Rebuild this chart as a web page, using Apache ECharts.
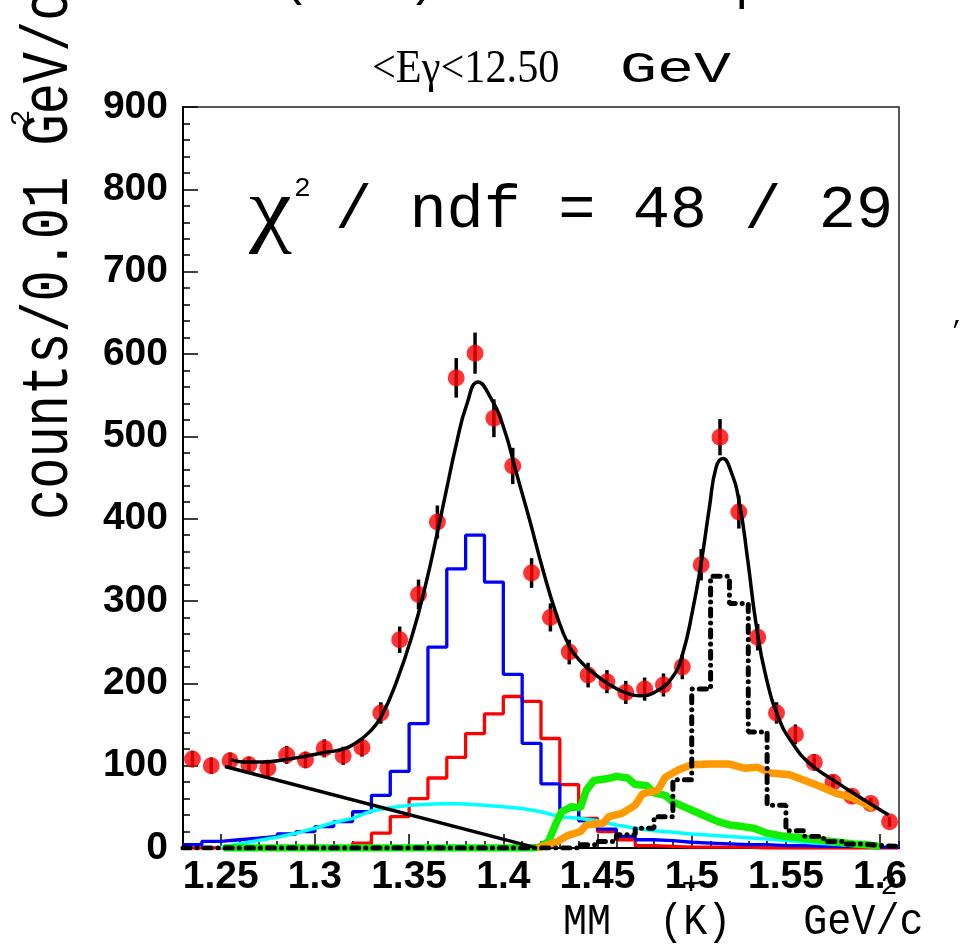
<!DOCTYPE html>
<html>
<head>
<meta charset="utf-8">
<script src="https://cdn.jsdelivr.net/npm/echarts@6/dist/echarts.min.js"></script>
<style>
  html, body { margin: 0; padding: 0; background: #fff; }
  #chart { width: 964px; height: 948px; }
</style>
</head>
<body>
<div id="chart"></div>
<script>
// data points: bin centres (GeV/c^2), counts and their errors
const pointX = [1.235, 1.245, 1.255, 1.265, 1.275, 1.285, 1.295, 1.305, 1.315, 1.325,
  1.335, 1.345, 1.355, 1.365, 1.375, 1.385, 1.395, 1.405, 1.415, 1.425,
  1.435, 1.445, 1.455, 1.465, 1.475, 1.485, 1.495, 1.505, 1.515, 1.525,
  1.535, 1.545, 1.555, 1.565, 1.575, 1.585, 1.595, 1.605]
const pointY = [108, 100, 106, 101, 97, 113, 107, 121, 112, 122,
  164, 253, 308, 396, 571, 601, 522, 464, 334, 280,
  238, 210, 202, 189, 193, 198, 220, 344, 499, 408,
  256, 164, 138, 104, 80, 63, 54, 32]
const pointErr = [10, 10, 10, 10, 10, 11, 10, 11, 11, 11,
  13, 16, 18, 20, 24, 25, 23, 22, 18, 17,
  15, 15, 14, 14, 14, 14, 15, 19, 22, 20,
  16, 13, 12, 10, 9, 8, 7, 6]

// histograms: lower bin edges and contents
const binLow = [1.23, 1.24, 1.25, 1.26, 1.27, 1.28, 1.29, 1.30, 1.31, 1.32,
  1.33, 1.34, 1.35, 1.36, 1.37, 1.38, 1.39, 1.40, 1.41, 1.42,
  1.43, 1.44, 1.45, 1.46, 1.47, 1.48, 1.49, 1.50, 1.51, 1.52,
  1.53, 1.54, 1.55, 1.56, 1.57, 1.58, 1.59, 1.60]
const blueHist = [4, 8, 10, 12, 14, 17, 20, 26, 32, 44,
  64, 93, 151, 244, 339, 380, 323, 211, 127, 78,
  47, 33, 23, 14, 10, 9, 7, 6, 5, 4,
  4, 3, 3, 2, 2, 2, 1, 1]
const redHist = [0, 0, 0, 0, 0, 0, 0, 0, 0, 6,
  18, 38, 60, 85, 110, 139, 163, 184, 178, 133,
  77, 36, 20, 10, 3, 2, 1, 1, 1, 1,
  0, 0, 0, 0, 0, 0, 0, 0]
const dashHist = [0, 0, 0, 0, 0, 0, 0, 0, 0, 0,
  0, 0, 0, 0, 0, 0, 0, 0, 0, 0,
  0, 4, 8, 16, 24, 38, 83, 193, 330, 297,
  141, 52, 21, 14, 8, 5, 3, 2]

// curves
const cyanX = [1.25, 1.26, 1.27, 1.28, 1.29, 1.30, 1.31, 1.32, 1.33, 1.34,
  1.35, 1.36, 1.37, 1.38, 1.39, 1.40, 1.41, 1.42, 1.43, 1.44,
  1.45, 1.46, 1.47, 1.48, 1.49, 1.50, 1.51, 1.52, 1.53, 1.54,
  1.55, 1.56, 1.57, 1.58, 1.59, 1.60]
const cyanY = [1, 5, 9, 13, 18, 24, 31, 36, 45, 49,
  52, 53, 54, 53.5, 52, 50, 48, 44, 38, 36,
  33, 28, 24, 21, 19, 17, 15.5, 14, 12.5, 11,
  9, 7, 5.5, 4, 3, 2]
const greenX = [1.2515, 1.415, 1.419, 1.424, 1.428, 1.431, 1.436, 1.441, 1.444, 1.448,
  1.455, 1.46, 1.466, 1.47, 1.476, 1.48, 1.486, 1.49, 1.496, 1.502,
  1.508, 1.514, 1.52, 1.527, 1.533, 1.54, 1.547, 1.555, 1.563, 1.57,
  1.578, 1.586, 1.593, 1.6]
const greenY = [0, 0, 1, 8, 30, 44, 50, 49, 70, 82,
  84, 87, 85, 77, 76, 67, 64, 56, 50, 44,
  38, 32, 28, 26, 24, 18, 15, 13, 11, 9,
  7, 5, 4, 2]
const orangeX = [1.418, 1.424, 1.429, 1.434, 1.441, 1.444, 1.453, 1.456, 1.463, 1.47,
  1.474, 1.482, 1.486, 1.493, 1.50, 1.51, 1.52, 1.528, 1.535, 1.542,
  1.552, 1.559, 1.568, 1.577, 1.584, 1.591, 1.5965]
const orangeY = [0, 4, 8, 15, 20, 28, 30, 38, 42, 52,
  66, 70, 86, 95, 101, 102, 102, 97, 98, 91,
  89, 83, 75, 66, 62, 55, 48]
const bgX = [1.2523, 1.416]
const bgY = [99, 1]
const fitX = [1.2555, 1.262, 1.272, 1.283, 1.294, 1.305, 1.315, 1.322, 1.329, 1.335,
  1.343, 1.352, 1.359, 1.3645, 1.370, 1.375, 1.3805, 1.3866, 1.393, 1.400,
  1.407, 1.414, 1.421, 1.428, 1.435, 1.4405, 1.446, 1.456, 1.467, 1.4723,
  1.481, 1.4899, 1.4952, 1.5005, 1.505, 1.5094, 1.5129, 1.5165, 1.5209, 1.5253,
  1.5297, 1.5341, 1.5394, 1.5465, 1.5536, 1.5624, 1.5748, 1.589, 1.6045]
const fitY = [107, 104.5, 104.5, 107, 111, 116, 120, 128, 141, 159,
  200, 261, 322, 378, 437, 490, 538, 566, 548, 512,
  455, 398, 338, 285, 245, 228, 216, 199, 187, 185,
  190, 208, 236, 289, 346, 414, 462, 473, 457, 419,
  350, 273, 208, 156, 127, 103, 83, 62, 40]

const xTickLabels = [1.25, 1.3, 1.35, 1.4, 1.45, 1.5, 1.55, 1.6]

const minorTicks = []
for (let i = 0; i <= 38; i++) minorTicks.push(+(1.23 + i * 0.01).toFixed(2))

function pairs (xs, ys) {
  return xs.map((x, i) => [x, ys[i]])
}
function histData (vals) {
  const d = binLow.map((x, i) => [x, vals[i]])
  d.push([1.61, vals[vals.length - 1]])
  return d
}

const mono = '"Liberation Mono", "DejaVu Sans Mono", monospace'
const serif = '"Liberation Serif", "DejaVu Serif", serif'
const sans = '"Liberation Sans", Arial, sans-serif'

const chart = echarts.init(document.getElementById('chart'))
chart.setOption({
  animation: false,
  backgroundColor: '#fff',
  grid: {
    left: 183, right: 65, top: 107, bottom: 100,
    show: true, borderColor: '#222', borderWidth: 1.5
  },
  xAxis: [{
    type: 'value', min: 1.23, max: 1.61, position: 'bottom',
    axisLine: { onZero: false, lineStyle: { color: '#000', width: 2 } },
    axisTick: { customValues: xTickLabels, inside: true, length: 14, lineStyle: { color: '#000', width: 1.5 } },
    axisLabel: {
      customValues: xTickLabels, margin: 10,
      formatter: v => String(+(+v).toFixed(2)),
      color: '#000', fontSize: 39, fontWeight: 'bold', fontFamily: sans
    },
    splitLine: { show: false }
  }, {
    type: 'value', min: 1.23, max: 1.61, position: 'bottom',
    axisLine: { show: false, onZero: false },
    axisTick: { customValues: minorTicks, inside: true, length: 7, lineStyle: { color: '#000', width: 1.5 } },
    axisLabel: { show: false },
    splitLine: { show: false }
  }],
  yAxis: {
    type: 'value', min: 0, max: 900, interval: 100,
    axisLine: { show: true, lineStyle: { color: '#000', width: 2 } },
    axisTick: { inside: true, length: 15, lineStyle: { color: '#000', width: 1.5 } },
    minorTick: { show: true, splitNumber: 5, length: 7, lineStyle: { color: '#000', width: 1.5 } },
    axisLabel: { margin: 15, color: '#000', fontSize: 39, fontWeight: 'bold', fontFamily: sans },
    splitLine: { show: false }
  },
  series: [
    {
      name: 'red hist', type: 'line', step: 'end', symbol: 'none',
      data: histData(redHist), lineStyle: { color: '#ff0000', width: 3.3 }
    },
    {
      name: 'blue hist', type: 'line', step: 'end', symbol: 'none',
      data: histData(blueHist), lineStyle: { color: '#0000ff', width: 3.3 }
    },
    {
      name: 'cyan', type: 'line', symbol: 'none',
      data: pairs(cyanX, cyanY), lineStyle: { color: '#00ffff', width: 3.5 }
    },
    {
      name: 'green', type: 'line', symbol: 'none',
      data: pairs(greenX, greenY), lineStyle: { color: '#11ee00', width: 7.5 }
    },
    {
      name: 'orange', type: 'line', symbol: 'none',
      data: pairs(orangeX, orangeY), lineStyle: { color: '#ff9900', width: 7.5 }
    },
    {
      name: 'dashed hist', type: 'line', step: 'end', symbol: 'none',
      data: histData(dashHist),
      lineStyle: { color: '#000', width: 5, type: [7, 7, 0.1, 7], cap: 'round' }
    },
    {
      name: 'background', type: 'line', symbol: 'none',
      data: pairs(bgX, bgY), lineStyle: { color: '#000', width: 3.5 }
    },
    {
      name: 'errors', type: 'custom',
      data: pointX.map((x, i) => [x, pointY[i], pointErr[i]]),
      renderItem: function (params, api) {
        const x = api.value(0)
        const y = api.value(1)
        const e = api.value(2)
        const a = api.coord([x, y + e])
        const b = api.coord([x, y - e])
        return {
          type: 'line',
          shape: { x1: a[0], y1: a[1], x2: b[0], y2: b[1] },
          style: { stroke: '#000', lineWidth: 3.5 }
        }
      }
    },
    {
      name: 'data', type: 'scatter', symbol: 'circle', symbolSize: 17,
      data: pairs(pointX, pointY), itemStyle: { color: '#ff0000' }
    },
    {
      name: 'fit', type: 'line', symbol: 'none', smooth: 0.5,
      data: pairs(fitX, fitY), lineStyle: { color: '#000', width: 3.5 }
    }
  ],
  graphic: [
    // title
    { type: 'text', x: 372, y: 70, scaleX: 0.92,
      style: { text: '<Eγ<12.50', fontSize: 46, fontFamily: serif, fill: '#000', align: 'left', verticalAlign: 'middle' } },
    { type: 'text', x: 620, y: 70, scaleX: 1.4,
      style: { text: 'GeV', fontSize: 44, fontFamily: mono, fill: '#000', align: 'left', verticalAlign: 'middle' } },
    // cut-off text at the top
    { type: 'text', x: 280, y: 7, style: { text: '(', fontSize: 50, fontFamily: mono, fill: '#000', verticalAlign: 'bottom' } },
    { type: 'text', x: 408, y: 7, style: { text: ')', fontSize: 50, fontFamily: mono, fill: '#000', verticalAlign: 'bottom' } },
    { type: 'text', x: 735, y: 11, style: { text: 'p', fontSize: 50, fontFamily: mono, fill: '#000', verticalAlign: 'bottom' } },
    // chi2 / ndf
    { type: 'text', x: 249, y: 214, scaleX: 1.15,
      style: { text: 'χ', fontSize: 84, fontFamily: serif, fill: '#000', align: 'left', verticalAlign: 'middle' } },
    { type: 'text', x: 294, y: 189,
      style: { text: '2', fontSize: 28, fontFamily: mono, fill: '#000', align: 'left', verticalAlign: 'middle' } },
    { type: 'text', x: 335, y: 211,
      style: { text: '/ ndf = 48 / 29', fontSize: 62, fontFamily: mono, fill: '#000', align: 'left', verticalAlign: 'middle' } },
    // y axis title
    { type: 'text', x: 49, y: 520, rotation: Math.PI / 2, scaleY: 1.3,
      style: { text: 'counts/0.01 GeV/c', fontSize: 52, fontFamily: mono, fill: '#000', align: 'left', verticalAlign: 'middle' } },
    { type: 'text', x: 22, y: 118, rotation: Math.PI / 2,
      style: { text: '2', fontSize: 28, fontFamily: mono, fill: '#000', align: 'center', verticalAlign: 'middle' } },
    // x axis title
    { type: 'text', x: 563, y: 922, scaleX: 0.89,
      style: { text: 'MM  (K)   GeV/c', fontSize: 45, fontFamily: mono, fill: '#000', align: 'left', verticalAlign: 'middle' } },
    { type: 'text', x: 691, y: 886,
      style: { text: '+', fontSize: 32, fontFamily: mono, fill: '#000', align: 'center', verticalAlign: 'middle' } },
    { type: 'text', x: 889, y: 887,
      style: { text: '2', fontSize: 28, fontFamily: mono, fill: '#000', align: 'center', verticalAlign: 'middle' } },
    { type: 'text', x: 958, y: 318,
      style: { text: ',', fontSize: 24, fontFamily: mono, fill: '#000', align: 'center', verticalAlign: 'middle' } }
  ]
})
</script>
</body>
</html>
